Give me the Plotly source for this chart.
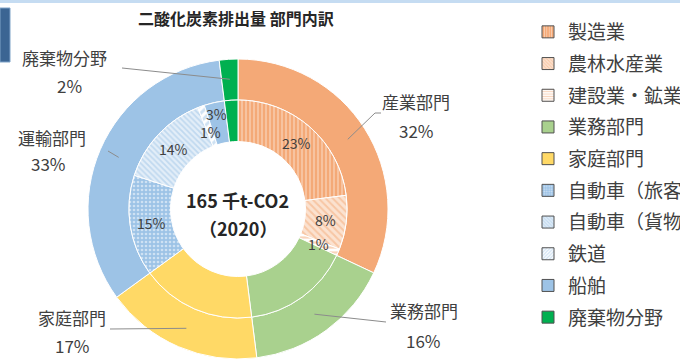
import math
import plotly.graph_objects as go

# ---------------- data ----------------
chart_title = "二酸化炭素排出量 部門内訳"
center_lines = ["165 千t-CO2", "（2020）"]

sector_labels = ["産業部門", "業務部門", "家庭部門", "運輸部門", "廃棄物分野"]
sector_values = [32, 16, 17, 33, 2]

sub_labels = ["製造業", "農林水産業", "建設業・鉱業", "業務部門", "家庭部門",
              "自動車（旅客）", "自動車（貨物）", "鉄道", "船舶", "廃棄物分野"]
sub_values = [23, 8, 1, 16, 17, 15, 14, 1, 3, 2]
sub_labelled = [True, True, True, False, False, True, True, True, True, False]

# ---------------- style ----------------
W, H = 680, 359
CX, CY = 238, 209          # donut centre (px from left / top)
R_OUT, R_MID, R_IN = 150, 109, 67.5
FONT = "Noto Sans CJK JP"
TXT = "#404040"

ORANGE, GREEN, YELLOW, BLUE, DGREEN = "#F4A977", "#A9D18E", "#FFD966", "#9DC3E6", "#00B050"
sector_colors = [ORANGE, GREEN, YELLOW, BLUE, DGREEN]

sub_bg = [ORANGE, "#FBE2D0", "#FFFFFF", GREEN, YELLOW, BLUE, "#E3EEF8", "#FFFFFF", BLUE, DGREEN]
sub_fg = ["#FFFFFF", ORANGE, ORANGE, GREEN, YELLOW, "#FFFFFF", BLUE, BLUE, BLUE, DGREEN]
sub_shape = ["|", "\\", "-", "", "", ".", "\\", "/", "", ""]
sub_size = [4, 5, 5, 8, 8, 4, 4, 6, 8, 8]
sub_solid = [0.3, 0.4, 0.45, 0.3, 0.3, 0.35, 0.45, 0.5, 0.3, 0.3]
sub_label_r = [88, 88, 88, 88, 88, 88, 88, 82, 97, 88]

# outer label positions (text centres) and leader end points (px)
outer_name_pos = [(416, 102), (424, 310), (72, 317), (52, 137), (64, 57)]
outer_pct_pos = [(416, 130), (423, 340), (72, 345), (49, 163), (69, 86)]
leader_ends = [[(375, 113), (381, 113)], [(386, 322)], [(110, 329)], [(108, 151)], [(122, 68)]]
LEADER_R = 130


def px(x):
    return x / W


def py(y):
    return 1 - y / H


fig = go.Figure()

# outer ring
fig.add_trace(go.Pie(
    labels=sector_labels, values=sector_values, sort=False, direction="clockwise",
    rotation=0, hole=R_MID / R_OUT, textinfo="none", hoverinfo="label+percent",
    marker=dict(colors=sector_colors, line=dict(color="white", width=1)),
    domain=dict(x=[px(CX - R_OUT), px(CX + R_OUT)],
                y=[max(0, (H - CY - R_OUT) / H), (H - CY + R_OUT) / H]),
    showlegend=False, name="outer"))

# inner ring
fig.add_trace(go.Pie(
    labels=sub_labels, values=sub_values, sort=False, direction="clockwise",
    rotation=0, hole=R_IN / R_MID, textinfo="none", hoverinfo="label+percent",
    marker=dict(colors=sub_bg, line=dict(color="white", width=1),
                pattern=dict(shape=sub_shape, fgcolor=sub_fg, bgcolor=sub_bg,
                             size=sub_size, solidity=sub_solid, fillmode="overlay")),
    domain=dict(x=[px(CX - R_MID), px(CX + R_MID)],
                y=[(H - CY - R_MID) / H, (H - CY + R_MID) / H]),
    showlegend=False, name="inner"))

# legend proxies (same styles as inner ring)
for i, lab in enumerate(sub_labels):
    fig.add_trace(go.Bar(
        x=[None], y=[None], name=lab, legendgroup=lab, showlegend=True,
        marker=dict(color=sub_bg[i], line=dict(color="#505050", width=1),
                    pattern=dict(shape=sub_shape[i], fgcolor=sub_fg[i], bgcolor=sub_bg[i],
                                 size=3, solidity=sub_solid[i], fillmode="overlay"))))

annotations = []
shapes = []


def label(x, y, text, size, color=TXT):
    annotations.append(dict(x=px(x), y=py(y), xref="paper", yref="paper",
                            xanchor="center", yanchor="middle",
                            text=text, showarrow=False,
                            font=dict(family=FONT, size=size, color=color)))


# inner labels from data angles
tot = sum(sub_values)
cum = 0
for i, v in enumerate(sub_values):
    mid = (cum + v / 2) / tot * 2 * math.pi
    cum += v
    if not sub_labelled[i]:
        continue
    r = sub_label_r[i]
    label(CX + r * math.sin(mid), CY - r * math.cos(mid),
          f"{round(v / tot * 100)}%", 14)

# outer labels + leader lines
tot = sum(sector_values)
cum = 0
for i, v in enumerate(sector_values):
    mid = (cum + v / 2) / tot * 2 * math.pi
    cum += v
    sx = CX + LEADER_R * math.sin(mid)
    sy = CY - LEADER_R * math.cos(mid)
    pts = [(sx, sy)] + leader_ends[i]
    for (x0, y0), (x1, y1) in zip(pts[:-1], pts[1:]):
        shapes.append(dict(type="line", xref="paper", yref="paper",
                           x0=px(x0), y0=py(y0), x1=px(x1), y1=py(y1),
                           line=dict(color="#8C8C8C", width=1)))
    label(*outer_name_pos[i], sector_labels[i], 17)
    label(*outer_pct_pos[i], f"{round(v / tot * 100)}%", 17)

# centre text
label(CX, 200, f"<b>{center_lines[0]}</b>", 18, "#262626")
label(CX, 228, f"<b>{center_lines[1]}</b>", 18, "#262626")
# title
label(236, 18, f"<b>{chart_title}</b>", 16, "#262626")

# page decorations
shapes.append(dict(type="rect", xref="paper", yref="paper", x0=0, x1=1,
                   y0=py(3), y1=1, line=dict(width=0), fillcolor="#C5DCF2"))
shapes.append(dict(type="rect", xref="paper", yref="paper", x0=0, x1=px(10),
                   y0=py(62), y1=py(8), line=dict(color="#7FA3C8", width=1),
                   fillcolor="#3B6593"))

fig.update_layout(
    width=W, height=H, margin=dict(l=0, r=0, t=0, b=0, autoexpand=False),
    paper_bgcolor="white", plot_bgcolor="rgba(0,0,0,0)",
    xaxis=dict(visible=False), yaxis=dict(visible=False),
    showlegend=True,
    legend=dict(x=px(528), y=py(13), xanchor="left", yanchor="top",
                font=dict(family=FONT, size=19, color=TXT),
                tracegroupgap=4, bgcolor="rgba(0,0,0,0)", itemclick=False),
    annotations=annotations, shapes=shapes,
)

fig.write_html("out.html")
